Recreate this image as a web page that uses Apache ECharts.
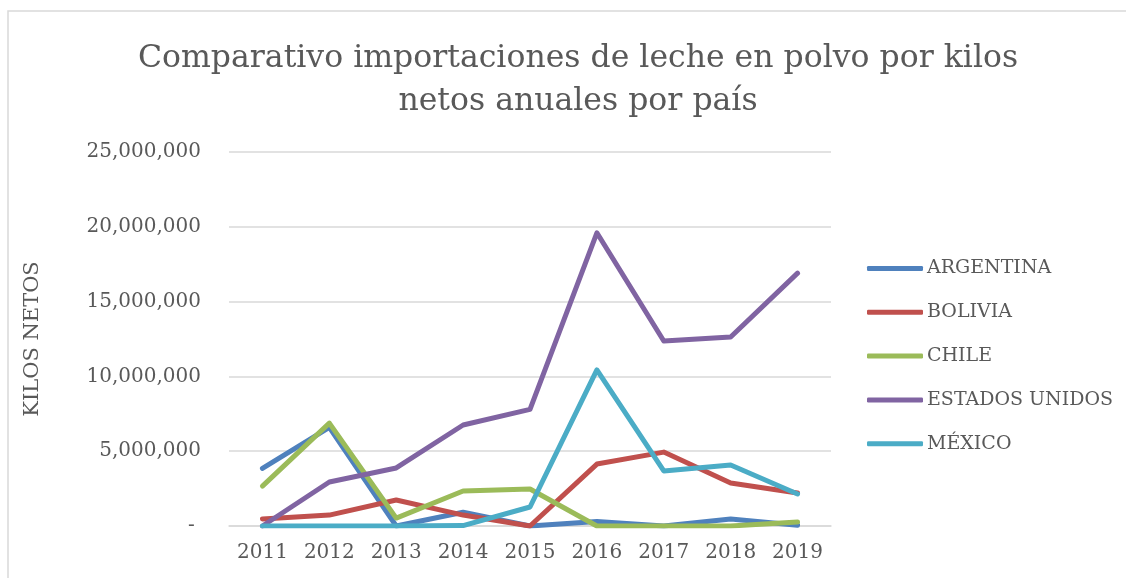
<!DOCTYPE html>
<html>
<head>
<meta charset="utf-8">
<script src="https://cdn.jsdelivr.net/npm/echarts@6/dist/echarts.min.js"></script>
<style>
  html, body { margin: 0; padding: 0; background: #fff; }
  #chart { width: 1126px; height: 578px; }
</style>
</head>
<body>
<div id="chart"></div>
<script>
const years = ['2011', '2012', '2013', '2014', '2015', '2016', '2017', '2018', '2019']
const argentina = [3850000, 6600000, 0, 920000, 0, 300000, 0, 470000, 50000]
const bolivia = [470000, 730000, 1740000, 730000, 0, 4140000, 4940000, 2870000, 2200000]
const chile = [2670000, 6880000, 530000, 2340000, 2470000, 0, 0, 0, 270000]
const estadosUnidos = [0, 2940000, 3880000, 6750000, 7800000, 19600000, 12370000, 12630000, 16900000]
const mexico = [0, 0, 0, 30000, 1270000, 10430000, 3680000, 4080000, 2140000]

const grey = '#595959'
const serif = 'DejaVu Serif'

const mkLine = (name, data, color) => ({
  name,
  type: 'line',
  data,
  symbol: 'none',
  lineStyle: { width: 5, color, cap: 'round', join: 'round' },
  itemStyle: { color },
})

const chart = echarts.init(document.getElementById('chart'))
chart.setOption({
  animation: false,
  title: {
    text: 'Comparativo importaciones de leche en polvo por kilos\nnetos anuales por país',
    left: 573,
    top: 32,
    textAlign: 'center',
    textStyle: { fontFamily: serif, fontSize: 31.5, fontWeight: 'normal', color: grey, lineHeight: 43 },
  },
  graphic: [{
    type: 'rect',
    shape: { x: 8, y: 11, width: 1300, height: 800 },
    style: { fill: 'none', stroke: '#d9d9d9', lineWidth: 1.5 },
    silent: true,
  }],
  legend: {
    orient: 'vertical',
    left: 862,
    top: 254,
    icon: 'roundRect',
    itemWidth: 56,
    itemHeight: 5,
    itemGap: 24.8,
    textStyle: { fontFamily: serif, fontSize: 19, color: grey, padding: [0, 0, 0, -1] },
  },
  grid: { left: 229, right: 295, top: 152, bottom: 52 },
  xAxis: {
    type: 'category',
    data: years,
    axisLine: { lineStyle: { color: '#d9d9d9', width: 1.5 } },
    axisTick: { show: false },
    axisLabel: { fontFamily: serif, fontSize: 20, color: grey, margin: 17 },
  },
  yAxis: {
    type: 'value',
    min: 0,
    max: 25000000,
    interval: 5000000,
    name: 'KILOS NETOS',
    nameLocation: 'middle',
    nameGap: 186,
    nameTextStyle: { fontFamily: serif, fontSize: 21, color: grey },
    splitLine: { lineStyle: { color: '#d9d9d9', width: 1.5 } },
    axisLine: { show: false },
    axisTick: { show: false },
    axisLabel: {
      fontFamily: serif,
      fontSize: 20,
      color: grey,
      margin: 28,
      formatter: v => v === 0 ? '- ' : v.toLocaleString('en-US'),
    },
  },
  series: [
    mkLine('ARGENTINA', argentina, '#4F81BD'),
    mkLine('BOLIVIA', bolivia, '#C0504D'),
    mkLine('CHILE', chile, '#9BBB59'),
    mkLine('ESTADOS UNIDOS', estadosUnidos, '#8064A2'),
    mkLine('MÉXICO', mexico, '#4BACC6'),
  ],
})
</script>
</body>
</html>
